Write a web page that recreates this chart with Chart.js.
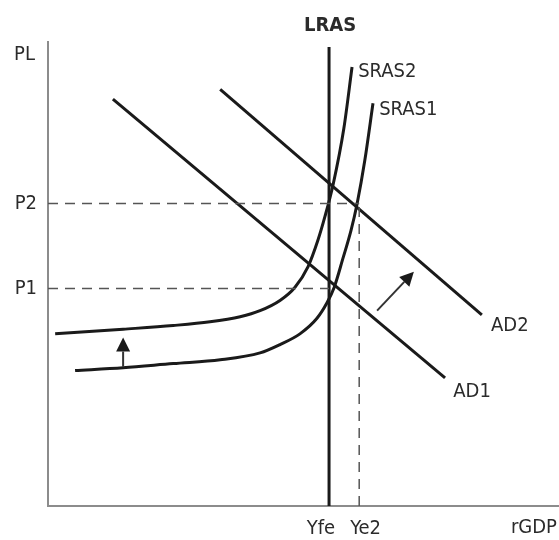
<!DOCTYPE html>
<html>
<head>
<meta charset="utf-8">
<script src="https://cdn.jsdelivr.net/npm/chart.js@4.4.1/dist/chart.umd.min.js"></script>
<style>
  html, body { margin: 0; padding: 0; background: #fff; }
</style>
</head>
<body>
<canvas id="myChart" width="559" height="540"></canvas>
<script>
// axis ticks
const xTickValues = [55.0, 60.9];
const xTickLabels = ['Yfe', 'Ye2'];
const yTickValues = [46.9, 65.2];
const yTickLabels = ['P1', 'P2'];

// curves (rGDP, PL)
const lrasX = [55.0, 55.0];
const lrasY = [0, 98.9];

const ad1X = [12.7, 77.7];
const ad1Y = [87.7, 27.6];
const ad2X = [33.7, 84.9];
const ad2Y = [89.8, 41.2];

const sras1X = [5.3, 14.7, 24.5, 33.7, 41.5, 45.4, 49.3, 52.6, 54.6, 56.0, 57.7, 59.3, 60.5, 62.0, 63.6];
const sras1Y = [29.2, 29.8, 30.7, 31.5, 33.0, 34.8, 37.1, 40.4, 43.8, 47.1, 53.3, 59.4, 65.2, 74.5, 86.8];
const sras2X = [1.4, 14.7, 24.5, 31.7, 37.6, 41.5, 45.4, 48.3, 50.9, 52.8, 54.2, 55.8, 57.9, 59.5];
const sras2Y = [37.1, 38.1, 38.9, 39.7, 40.8, 42.1, 44.3, 47.1, 51.6, 57.2, 62.4, 69.3, 81.4, 94.6];

// guide lines
const p1X = [0, 55.0];
const p2X = [0, 60.9];
const ye2Y = [0, 65.2];

// shift arrows [x0, y0, x1, y1]
const arrowSras = [14.7, 30.0, 14.7, 36.3];
const arrowAd = [64.4, 42.1, 71.6, 50.5];

// curve names
const noteText = ['LRAS', 'SRAS2', 'SRAS1', 'AD2', 'AD1', 'PL', 'rGDP'];
const noteX = [55.2, 60.7, 64.8, 86.7, 79.3, -4.6, 99.6];
const noteY = [103.4, 93.5, 85.3, 38.9, 24.6, 97.2, -4.8];

const zip = (xs, ys) => xs.map((v, i) => ({ x: v, y: ys[i] }));
const FONT = "'Liberation Sans Narrow', 'DejaVu Sans Condensed', 'Roboto', sans-serif";

const line = (data, extra) => Object.assign({
  data: data,
  borderColor: '#1a1a1a',
  borderWidth: 3,
  pointRadius: 0,
  showLine: true,
  fill: false
}, extra || {});

const dash = (data) => line(data, { borderColor: '#555', borderWidth: 1.5, borderDash: [10, 7] });

const notes = {
  id: 'notes',
  afterDatasetsDraw(chart) {
    const { ctx, scales: { x, y } } = chart;
    ctx.save();
    ctx.fillStyle = '#2b2b2b';
    ctx.textBaseline = 'middle';
    noteText.forEach((t, i) => {
      const bold = t === 'LRAS';
      ctx.font = (bold ? 'bold ' : '') + '20px ' + FONT;
      ctx.textAlign = t === 'LRAS' || t === 'PL' ? 'center' : (t === 'rGDP' ? 'right' : 'left');
      ctx.fillText(t, x.getPixelForValue(noteX[i]), y.getPixelForValue(noteY[i]));
    });

    // x tick labels: first sits left of its tick, second right of it
    ctx.font = '20px ' + FONT;
    xTickValues.forEach((v, i) => {
      ctx.textAlign = i === 0 ? 'right' : 'left';
      const px = x.getPixelForValue(v) + (i === 0 ? 6 : -9);
      ctx.fillText(xTickLabels[i], px, y.bottom + 23);
    });

    [arrowSras, arrowAd].forEach(a => {
      const x0 = x.getPixelForValue(a[0]), y0 = y.getPixelForValue(a[1]);
      const x1 = x.getPixelForValue(a[2]), y1 = y.getPixelForValue(a[3]);
      const ang = Math.atan2(y1 - y0, x1 - x0);
      const len = 14, half = 7;
      ctx.strokeStyle = '#333';
      ctx.lineWidth = 2;
      ctx.beginPath();
      ctx.moveTo(x0, y0);
      ctx.lineTo(x1 - len * Math.cos(ang), y1 - len * Math.sin(ang));
      ctx.stroke();
      ctx.fillStyle = '#1a1a1a';
      ctx.beginPath();
      ctx.moveTo(x1, y1);
      ctx.lineTo(x1 - len * Math.cos(ang) + half * Math.sin(ang), y1 - len * Math.sin(ang) - half * Math.cos(ang));
      ctx.lineTo(x1 - len * Math.cos(ang) - half * Math.sin(ang), y1 - len * Math.sin(ang) + half * Math.cos(ang));
      ctx.closePath();
      ctx.fill();
    });
    ctx.restore();
  }
};

const ctx = document.getElementById('myChart');

new Chart(ctx, {
  type: 'scatter',
  data: {
    datasets: [
      dash(zip(p1X, [46.9, 46.9])),
      dash(zip(p2X, [65.2, 65.2])),
      dash(zip([60.9, 60.9], ye2Y)),
      line(zip(lrasX, lrasY)),
      line(zip(ad1X, ad1Y)),
      line(zip(ad2X, ad2Y)),
      line(zip(sras1X, sras1Y), { cubicInterpolationMode: 'monotone' }),
      line(zip(sras2X, sras2Y), { cubicInterpolationMode: 'monotone' })
    ]
  },
  options: {
    responsive: false,
    animation: false,
    layout: { padding: { top: 42, left: 0, right: 0, bottom: 0 } },
    plugins: { legend: { display: false }, tooltip: { enabled: false } },
    scales: {
      x: {
        type: 'linear',
        min: 0,
        max: 100,
        afterBuildTicks: s => { s.ticks = xTickValues.map(v => ({ value: v })); },
        afterFit: s => { s.height = 34; },
        grid: { display: false, drawTicks: false },
        border: { color: '#8c8c8c', width: 2 },
        ticks: { display: false }
      },
      y: {
        type: 'linear',
        min: 0,
        max: 100,
        afterBuildTicks: s => { s.ticks = yTickValues.map(v => ({ value: v })); },
        afterFit: s => { s.width = 48; },
        grid: { display: false, drawTicks: false },
        border: { color: '#8c8c8c', width: 2 },
        ticks: {
          padding: 11,
          color: '#2b2b2b',
          font: { family: FONT, size: 20 },
          callback: v => yTickLabels[yTickValues.indexOf(v)]
        }
      }
    }
  },
  plugins: [notes]
});
</script>
</body>
</html>
